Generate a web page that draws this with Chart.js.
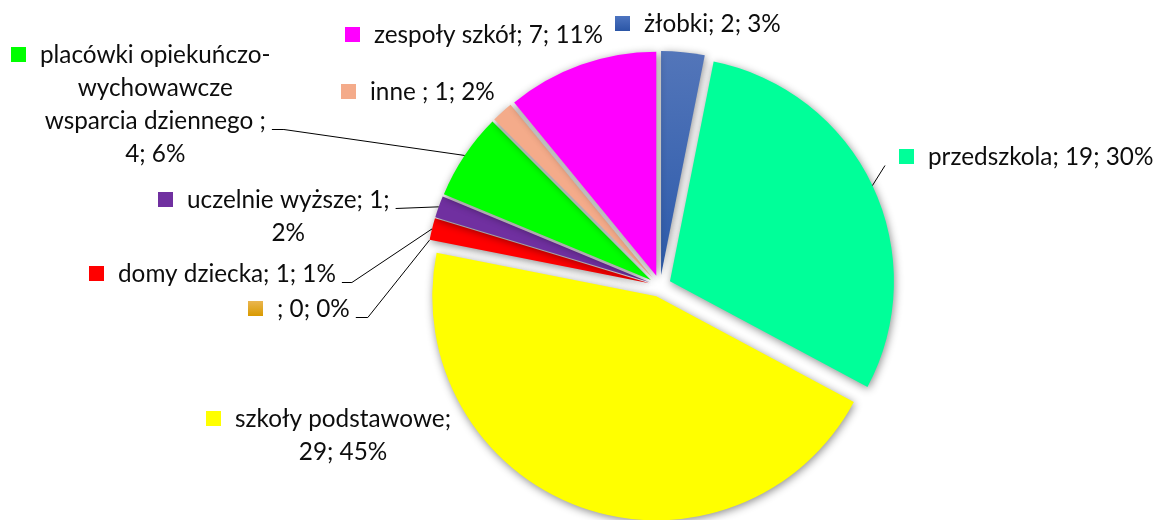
<!DOCTYPE html>
<html><head><meta charset="utf-8">
<script src="https://cdn.jsdelivr.net/npm/chart.js@4"></script>
<style>html,body{margin:0;padding:0;background:#fff}#wrap{width:1157px;height:520px;position:relative}</style>
</head><body><div id="wrap"><canvas id="c" width="1157" height="520"></canvas></div>
<script>
// ---- data ----
const categories = ['żłobki', 'przedszkola', 'szkoły podstawowe', '', 'domy dziecka', 'uczelnie wyższe', 'placówki opiekuńczo-wychowawcze wsparcia dziennego ', 'inne ', 'zespoły szkół'];
const values = [2, 19, 29, 0, 1, 1, 4, 1, 7];
const percentLabels = ['3%', '30%', '45%', '0%', '1%', '2%', '6%', '2%', '11%'];

// ---- styles / layout ----
const sliceColors = ['#3f66b2', '#00ff99', '#ffff00', '#e3a520', '#ff0000', '#7030a0', '#00ff00', '#f4ab8a', '#ff00ff'];
const explode = 11;
const labelLayout = [
  {sx: 615, base: 32},
  {sx: 899, base: 165, leader: {line: 0, side: 'left', stub: 0}},
  {sx: 206, base: 427, wrap: 232},
  {sx: 248, base: 317, leader: {line: 0, side: 'right', stub: 12}},
  {sx: 89, base: 282, leader: {line: 0, side: 'right', stub: 10}},
  {sx: 158, base: 208, wrap: 215, leader: {line: 0, side: 'right', stub: 0}},
  {sx: 11, base: 63, wrap: 240, leader: {line: 2, side: 'right', stub: 12}},
  {sx: 341, base: 100},
  {sx: 345, base: 43}
];
const FONT = '24.3px Lato, "Open Sans", sans-serif';
const LINE_H = 33;

function tokens(s) {
  const out = []; let cur = '';
  for (const ch of s) { cur += ch; if (ch === ' ' || ch === '-') { out.push(cur); cur = ''; } }
  if (cur) out.push(cur);
  return out;
}
function wrapText(ctx, text, maxW) {
  if (!maxW) return [text];
  const lines = []; let line = '';
  for (const t of tokens(text)) {
    const test = line + t;
    if (line && ctx.measureText(test.trimEnd()).width > maxW) { lines.push(line.trimEnd()); line = t; }
    else line = test;
  }
  if (line) lines.push(line.trimEnd());
  return lines;
}

const explodePlugin = {
  id: 'explode',
  beforeDatasetDraw(chart, args) {
    const ctx = chart.ctx;
    ctx.save();
    ctx.shadowColor = 'rgba(0,0,0,0.45)';
    ctx.shadowBlur = 8;
    ctx.shadowOffsetX = 1;
    ctx.shadowOffsetY = 2;
    args.meta.data.forEach(el => {
      if (!el.circumference) return;
      const mid = (el.startAngle + el.endAngle) / 2;
      ctx.save();
      ctx.translate(Math.cos(mid) * explode, Math.sin(mid) * explode);
      el.draw(ctx);
      ctx.restore();
    });
    ctx.restore();
    return false;
  }
};

const labelPlugin = {
  id: 'labels',
  afterDraw(chart) {
    const ctx = chart.ctx;
    const meta = chart.getDatasetMeta(0);
    ctx.save();
    ctx.font = FONT;
    ctx.textBaseline = 'alphabetic';
    categories.forEach((name, i) => {
      const L = labelLayout[i];
      const text = name + '; ' + values[i] + '; ' + percentLabels[i];
      const lines = wrapText(ctx, text, L.wrap);
      const w0 = ctx.measureText(lines[0]).width;
      const cx = L.sx + 29 + w0 / 2;
      if (i === 0) {
        const g = ctx.createLinearGradient(0, L.base - 16, 0, L.base - 1);
        g.addColorStop(0, '#4d74c0'); g.addColorStop(1, '#2b56a6');
        ctx.fillStyle = g;
      } else if (i === 3) {
        const g = ctx.createLinearGradient(0, L.base - 16, 0, L.base - 1);
        g.addColorStop(0, '#eab650'); g.addColorStop(1, '#d99a00');
        ctx.fillStyle = g;
      } else ctx.fillStyle = sliceColors[i];
      ctx.fillRect(L.sx, L.base - 16, 15, 15);
      ctx.fillStyle = '#0d0d0d';
      ctx.textAlign = 'center';
      lines.forEach((ln, k) => ctx.fillText(ln, cx, L.base + k * LINE_H));
      if (L.leader) {
        const el = meta.data[i];
        const mid = (el.startAngle + el.endAngle) / 2;
        const r = el.outerRadius + explode;
        const px = el.x + Math.cos(mid) * r, py = el.y + Math.sin(mid) * r;
        const k = L.leader.line;
        const by = L.base + k * LINE_H;
        let sx, dir;
        if (L.leader.side === 'right') { sx = cx + ctx.measureText(lines[k]).width / 2 + 6; dir = 1; }
        else { sx = L.sx - 14; dir = -1; }
        ctx.beginPath();
        ctx.strokeStyle = '#000';
        ctx.lineWidth = 1;
        ctx.moveTo(sx, by + 0.5);
        if (L.leader.stub) ctx.lineTo(sx + dir * L.leader.stub, by + 0.5);
        ctx.lineTo(px, py);
        ctx.stroke();
      }
    });
    ctx.restore();
  }
};

new Chart(document.getElementById('c'), {
  type: 'pie',
  data: {
    labels: categories,
    datasets: [{
      data: values,
      backgroundColor: (c) => {
        const i = c.dataIndex;
        if (i === 0) {
          const g = c.chart.ctx.createLinearGradient(0, 50, 0, 280);
          g.addColorStop(0, '#5577ba'); g.addColorStop(1, '#2d5bab');
          return g;
        }
        return sliceColors[i];
      },
      borderWidth: 0,
      radius: 224
    }]
  },
  options: {
    responsive: false,
    animation: false,
    events: [],
    layout: {padding: {left: 163, right: 0, top: 52, bottom: 0}},
    plugins: {legend: {display: false}, tooltip: {enabled: false}}
  },
  plugins: [explodePlugin, labelPlugin]
});
</script>
</body></html>
